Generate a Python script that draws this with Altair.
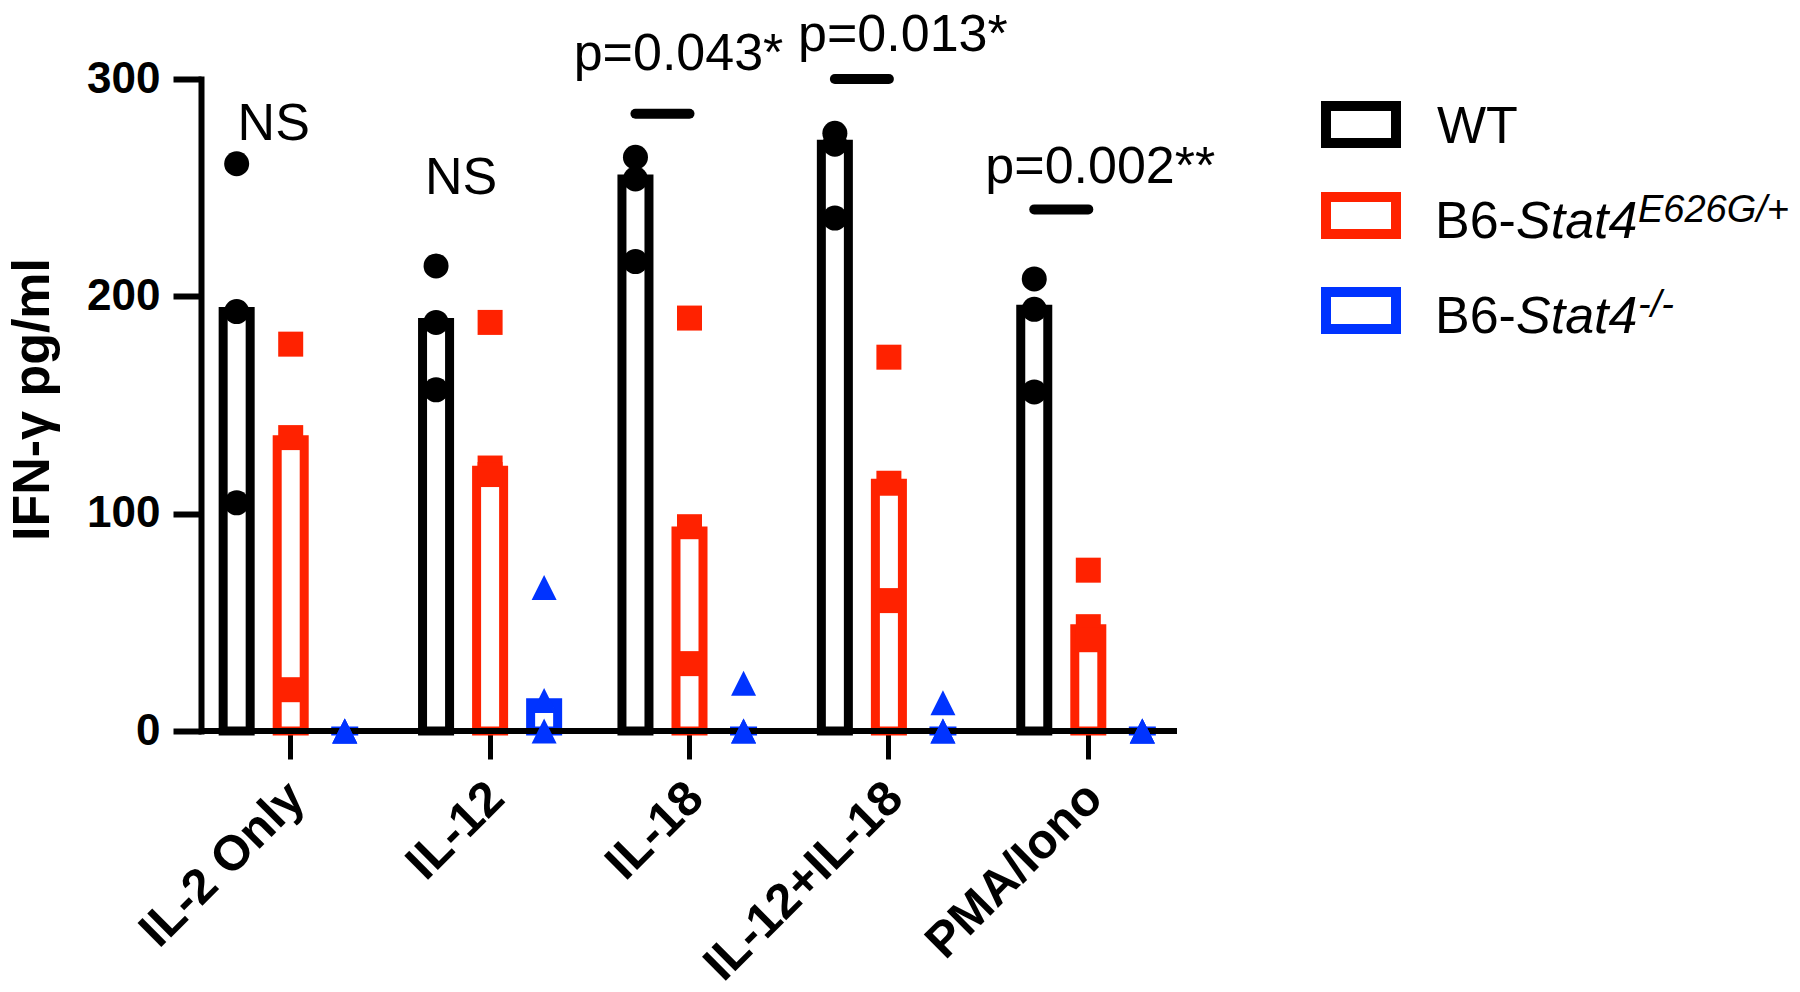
import altair as alt
import pandas as pd

FONT = "Liberation Sans"

# ---------------- data ----------------
categories = ["IL-2 Only", "IL-12", "IL-18", "IL-12+IL-18", "PMA/Iono"]
groups = ["WT", "E626G", "KO"]
group_colors = ["#000000", "#FF2200", "#0033FF"]
group_shapes = ["circle", "square", "M0,-1L1,1L-1,1Z"]

wt_points = [[261, 193, 105], [214, 188, 157], [264, 254, 216], [275, 270, 236], [208, 194, 156]]
e626g_points = [[178, 135, 19], [188, 121, 118], [190, 94, 31], [172, 114, 60], [74, 48, 42]]
ko_points = [[0, 0, 0], [66, 14, 0], [22, 0, 0], [13, 0, 0], [0, 0, 0]]

wt_bars = [193, 188, 254, 270, 194]
e626g_bars = [134, 120, 92, 114, 47]
ko_bars = [0, 13, 0, 0, 0]

ann_cats = ["IL-2 Only", "IL-12", "IL-18", "IL-12+IL-18", "PMA/Iono"]
ann_labels = ["NS", "NS", "p=0.043*", "p=0.013*", "p=0.002**"]
ann_y = [272, 247, 304, 313, 252]
ann_dx = [-17, -29, -11, 14, 12]

sig_cats = ["IL-18", "IL-12+IL-18", "PMA/Iono"]
sig_y = [284, 300, 240]

# ---------------- tables ----------------
bar_df = pd.DataFrame({
    "category": categories * 3,
    "group": [g for g in groups for _ in categories],
    "value": wt_bars + e626g_bars + ko_bars,
})

rows = []
for g, pts in zip(groups, [wt_points, e626g_points, ko_points]):
    for c, vals in zip(categories, pts):
        for v in vals:
            rows.append({"category": c, "group": g, "value": v})
pt_df = pd.DataFrame(rows)

sig_rows = []
for c, v in zip(sig_cats, sig_y):
    for g in groups[:2]:
        sig_rows.append({"category": c, "group": g, "value": v})
sig_df = pd.DataFrame(sig_rows)

one = pd.DataFrame({"k": [0]})

# ---------------- encodings ----------------
x_enc = alt.X(
    "category:N", sort=categories,
    scale=alt.Scale(domain=categories, range=[-10, 987], paddingInner=0, paddingOuter=0),
    axis=alt.Axis(
        title=None, domain=False, labelAngle=-45, labelFont=FONT, labelFontWeight="bold",
        labelFontSize=49, labelColor="black", tickColor="black", tickSize=28, tickWidth=5,
        labelPadding=14, labelLimit=600, labelOffset=-11,
    ),
)
xoff_enc = alt.XOffset(
    "group:N", sort=groups,
    scale=alt.Scale(domain=groups, paddingInner=0.5, paddingOuter=0.595),
)
y_enc = alt.Y(
    "value:Q",
    scale=alt.Scale(domain=[0, 300], nice=False, zero=True),
    axis=alt.Axis(
        values=[0, 100, 200, 300], title="IFN-γ pg/ml", grid=False,
        domainColor="black", domainWidth=6, domainCap="square",
        tickColor="black", tickWidth=6, tickSize=28,
        labelFont=FONT, labelFontWeight="bold", labelFontSize=44, labelColor="black",
        labelPadding=13,
        titleFont=FONT, titleFontWeight="bold", titleFontSize=52, titleColor="black",
        titleX=-153, titleY=320, titleBaseline="alphabetic", titleAngle=-90,
    ),
)
color_scale = alt.Scale(domain=groups, range=group_colors)

bars = alt.Chart(bar_df).mark_bar(fill="white", strokeWidth=9, strokeJoin="miter").encode(
    x=x_enc, xOffset=xoff_enc, y=y_enc,
    stroke=alt.Stroke("group:N", scale=color_scale, legend=None),
)

baseline = alt.Chart(one).mark_rule(color="black", strokeWidth=6).encode(
    y=alt.datum(0), x=alt.value(0), x2=alt.value(976)
)

points = alt.Chart(pt_df).mark_point(filled=True, opacity=1, size=625).encode(
    x=x_enc, xOffset=xoff_enc, y=y_enc,
    color=alt.Color("group:N", scale=color_scale, legend=None),
    shape=alt.Shape("group:N", scale=alt.Scale(domain=groups, range=group_shapes), legend=None),
)

sig_lines = alt.Chart(sig_df).mark_line(color="black", strokeWidth=10, strokeCap="round").encode(
    x=x_enc, xOffset=xoff_enc, y=y_enc, detail="category:N"
)

layers = [bars, baseline, points, sig_lines]

for c, lab, v, dx in zip(ann_cats, ann_labels, ann_y, ann_dx):
    d = pd.DataFrame({"category": [c], "value": [v], "label": [lab]})
    layers.append(
        alt.Chart(d).mark_text(
            font=FONT, fontSize=52, color="black", align="center", baseline="alphabetic", dx=dx
        ).encode(x=x_enc, y=y_enc, text="label:N")
    )

# ---------------- legend (custom, for rich text) ----------------
leg_rect_y = [(27, 64), (118, 155), (213, 250)]
for col, (y1, y2) in zip(group_colors, leg_rect_y):
    layers.append(
        alt.Chart(one).mark_rect(fill="white", stroke=col, strokeWidth=10).encode(
            x=alt.value(1125), x2=alt.value(1195), y=alt.value(y1), y2=alt.value(y2)
        )
    )

def txt(s, x, y, size=52, style="normal"):
    return alt.Chart(one).mark_text(
        text=s, font=FONT, fontSize=size, fontStyle=style, color="black",
        align="left", baseline="alphabetic"
    ).encode(x=alt.value(x), y=alt.value(y))

layers += [
    txt("WT", 1236, 64),
    txt("B6-", 1234, 159), txt("Stat4", 1315, 159, style="italic"),
    txt("E626G/+", 1437, 143, size=38, style="italic"),
    txt("B6-", 1234, 254), txt("Stat4", 1315, 254, style="italic"),
    txt("-/-", 1437, 238, size=38, style="italic"),
]

chart = alt.layer(*layers).properties(
    width=976, height=652,
    padding={"left": 193, "top": 71, "right": 615, "bottom": 253},
    autosize=alt.AutoSizeParams(type="none"),
).configure_view(stroke=None)

chart.save("out.html", embed_options={"renderer": "svg", "actions": False})
